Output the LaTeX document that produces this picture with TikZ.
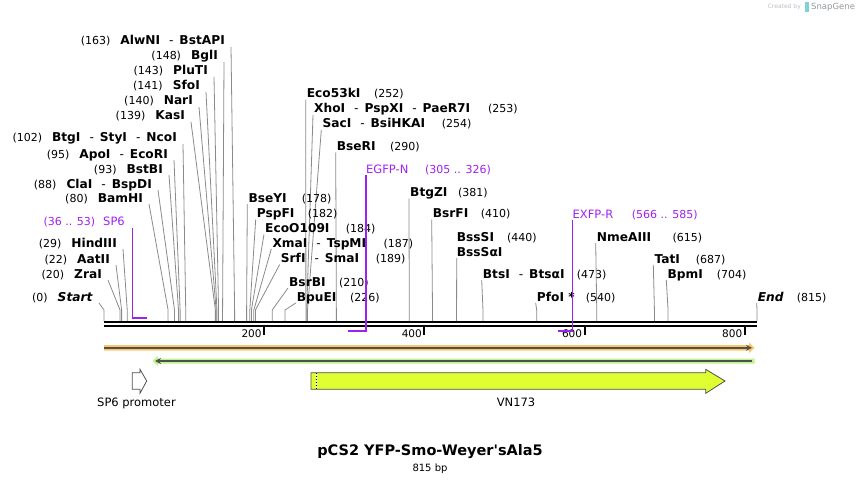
\documentclass[tikz,border=0pt]{standalone}
\usepackage{fontspec}
\setmainfont{DejaVu Sans}
\usetikzlibrary{calc,arrows.meta,positioning}

\definecolor{cutgray}{HTML}{8A8A8A}
\definecolor{primerv}{HTML}{A020F0}
\definecolor{bandorange}{HTML}{F9C66C}
\definecolor{bandgreen}{HTML}{BDF58C}
\definecolor{darkline}{HTML}{505050}
\definecolor{featlime}{HTML}{E0FF33}
\definecolor{markgray}{HTML}{B8BEC6}
\newcommand{\enzsep}{\hspace{9pt}\textmd{-}\hspace{6pt}}
\newcommand{\enzname}[1]{{\fontsize{12.2}{14}\selectfont\bfseries #1}}

\begin{document}
\begin{tikzpicture}[x=1pt,y=-1pt,{enz/.style={inner sep=1pt,text height=8pt,text depth=0pt,font=\fontsize{11}{13}\selectfont}},{primlbl/.style={enz,text=primerv}},{cutline/.style={color=cutgray,line width=0.8pt}},{primer/.style={color=primerv,line width=1.5pt}},{featlbl/.style={inner sep=1pt,font=\fontsize{11.5}{13}\selectfont}}]
	\useasboundingbox (0,0) rectangle (862,484);
	%%ends of the sequence
	\coordinate (A) at (104,322);
	\coordinate (B) at (757,322);
	%%cut sites left of their lines
	\foreach \nm/\num/\txt/\ex/\ey in {AlwNI/163/AlwNI\enzsep BstAPI/225/41, BglI/148/BglI/218/56, PluTI/143/PluTI/208/71, SfoI/141/SfoI/200/86, NarI/140/NarI/193/101, KasI/139/KasI/185/116, BtgI/102/BtgI\enzsep StyI\enzsep NcoI/177/138, ApoI/95/ApoI\enzsep EcoRI/168/154, BstBI/93/BstBI/163/169, ClaI/88/ClaI\enzsep BspDI/152/184, BamHI/80/BamHI/143/198, HindIII/29/HindIII/117/243, AatII/22/AatII/110/259, ZraI/20/ZraI/102/274, Start/0/\textit{Start}/93/297}{
		\coordinate (cut\nm) at ({104+0.80123*\num},321);
		\node[enz,anchor=east] (\nm) at (\ex+1,\ey) {(\num)\hspace{10pt}\enzname{\txt}};
		\draw[cutline] ([shift={(5,6)}]\nm.east) -- ([yshift=11pt]cut\nm) -- (cut\nm);
	}
	%%cut sites right of their lines
	\foreach \nm/\txt/\sx/\sy/\nx/\num in {Eco53kI/Eco53kI/306.7/94/374/252, XhoI/XhoI\enzsep PspXI\enzsep PaeR7I/314/109/488/253, SacI/SacI\enzsep BsiHKAI/322.3/124/441.7/254, BseRI/BseRI/336.7/146.5/390/290, BseYI/BseYI/248.3/198/301.7/178, PspFI/PspFI/256.7/213.5/307.7/182, EcoOI/EcoO109I/265/228.5/345.7/184, XmaI/XmaI\enzsep TspMI/272.3/243/383.3/187, SrfI/SrfI\enzsep SmaI/280.7/258.5/375.7/189, BsrBI/BsrBI/289/282/339/210, BpuEI/BpuEI/296.7/297/350/226, BtgZI/BtgZI/410/192.5/458/381, BsrFI/BsrFI/432.7/213.5/480.7/410, BtsI/BtsI\enzsep BtsαI/482.7/274/576.7/473, PfoI/PfoI */536.7/297/585.7/540, NmeAIII/NmeAIII/596.7/237/672.3/615, TatI/TatI/654.3/259/695.7/687, BpmI/BpmI/667.3/274/716.7/704, End/\textit{End}/757.7/297/796.7/815}{
		\coordinate (cut\nm) at ({104+0.80123*\num},321);
		\node[enz,anchor=west] (\nm) at (\sx-1,\sy) {\enzname{\txt}};
		\node[enz,anchor=west] (\nm-n) at (\nx-1,\sy) {(\num)};
		\draw[cutline] ([shift={(0,6)}]\nm.west) -- ([yshift=11pt]cut\nm) -- (cut\nm);
	}
	%%two names on one site
	\coordinate (cutBssSI) at ({104+0.80123*440},321);
	\node[enz,anchor=west] (BssSI) at (455.7,237) {\enzname{BssSI}};
	\node[enz,anchor=west] (BssSI-n) at (506,237) {(440)};
	\node[enz,anchor=west] (BssSaI) at (455.7,252) {\enzname{BssSαI}};
	\draw[cutline] ([shift={(1,6)}]BssSaI.west) -- (cutBssSI);
	%%sequence line
	\draw [line width=2.3pt] (A) -- (B);
	\draw [line width=2.3pt] ($(A)+(0,4.3)$) -- ($(B)+(0,4.3)$);
	%%ruler
	\foreach \t in {200,400,600,800}{
		\draw [line width=2pt] ({104+0.80123*\t},327) -- ++(0,8);
		\node [inner sep=0pt,anchor=east,font=\fontsize{10.5}{12}\selectfont] (tk\t) at ({104+0.80123*\t-2.5},333.5) {\t};
	}
	%%primers
	\node[primlbl,anchor=east] (SP6) at (126,221) {(36 .. 53)\hspace{8pt}{\fontsize{11.5}{13}\selectfont SP6}};
	\coordinate (SP6end) at (146.5,318);
	\draw[primer] ([shift={(6.5,7)}]SP6.east) |- (SP6end);
	\node[primlbl,anchor=west,font=\fontsize{11.5}{13}\selectfont] (EGFPN) at (365,169) {EGFP-N};
	\node[primlbl,anchor=west] (EGFPN-n) at (424,169) {(305 .. 326)};
	\coordinate (EGFPNend) at (348.4,331);
	\draw[primer] ([shift={(0.8,6)}]EGFPN.west) |- (EGFPNend);
	\node[primlbl,anchor=west,font=\fontsize{11.5}{13}\selectfont] (EXFPR) at (571.5,214) {EXFP-R};
	\node[primlbl,anchor=west] (EXFPR-n) at (630.7,214) {(566 .. 585)};
	\coordinate (EXFPRend) at (557.5,331);
	\draw[primer] ([shift={(0.8,6)}]EXFPR.west) |- (EXFPRend);
	%%features
	\fill [bandorange] (104,345) -- (749,345) -- (749,342.5) -- (754.5,347.8) -- (749,353) -- (749,350.7) -- (104,350.7) -- cycle;
	\draw [darkline,line width=2pt,-{Stealth[length=6pt,width=6pt]}] (104,347.8) -- (752,347.8);
	\fill [bandgreen] (754.5,358.5) -- (158,358.5) -- (158,356) -- (152.5,361) -- (158,366) -- (158,363.5) -- (754.5,363.5) -- cycle;
	\draw [darkline,line width=2pt,-{Stealth[length=6pt,width=6pt]}] (752,361) -- (155,361);
	\draw [darkline,fill=white,line width=0.8pt] (132.3,372.7) -- (140,372.7) -- (140,369.3) -- (146.7,381) -- (140,393.3) -- (140,389.3) -- (132.3,389.3) -- cycle;
	\node[featlbl] (SP6prom) at (136.5,403) {SP6 promoter};
	\draw [darkline,fill=featlime,line width=0.8pt] (311,372.7) -- (705.7,372.7) -- (705.7,369.3) -- (725,381) -- (705.7,393.3) -- (705.7,389.3) -- (311,389.3) -- cycle;
	\draw [white,line width=1pt] (316,373.2) -- (316,388.8);
	\draw [black,line width=1pt,dotted] (316,373.2) -- (316,388.8);
	\node[featlbl] (VN173) at (516,402) {VN173};
	%%title
	\node[inner sep=0pt,font=\fontsize{14.5}{16}\selectfont\bfseries] (title) at (430,452) {pCS2 YFP-Smo-Weyer\textquotesingle sAla5};
	\node[inner sep=0pt,font=\fontsize{10}{12}\selectfont,below=4pt of title] (size) {815 bp};
	%%watermark
	\node[inner sep=0pt,anchor=east,text=markgray,font=\fontsize{6}{7}\selectfont] (made) at (801,7) {Created by};
	\fill [markgray!70!cyan] (805,2.5) rectangle (809,12);
	\node[inner sep=0pt,anchor=west,text=markgray!80!black,font=\fontsize{8.5}{10}\selectfont] (snapgene) at (811,7) {SnapGene};
\end{tikzpicture}
\end{document}
